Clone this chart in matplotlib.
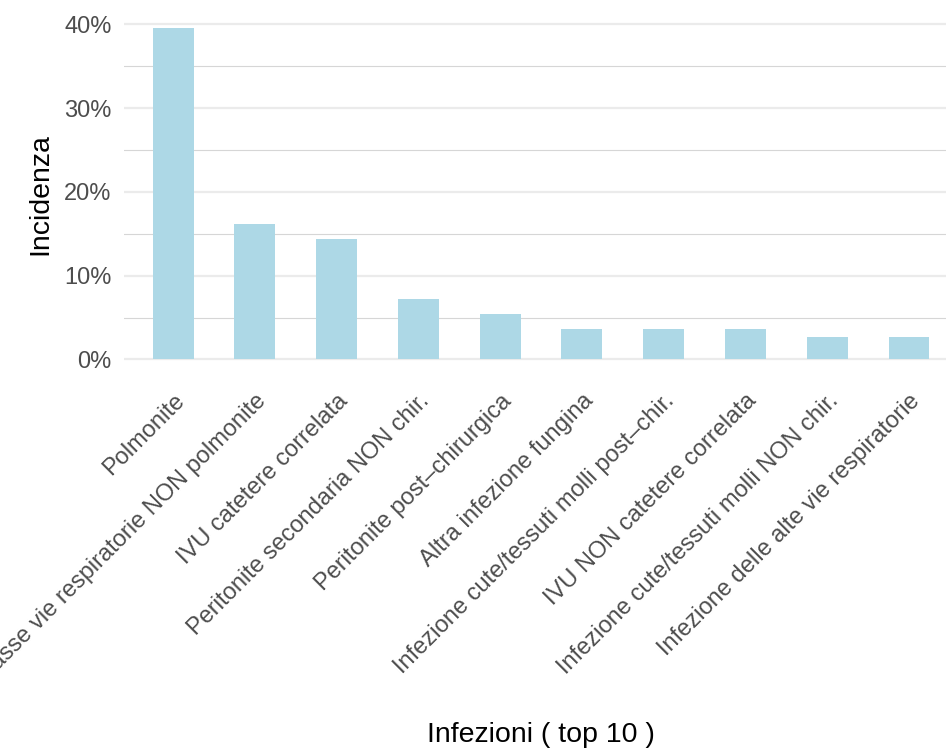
import matplotlib.pyplot as plt
import numpy as np
from matplotlib.ticker import FuncFormatter, MultipleLocator

plt.rcParams['font.family'] = ['Liberation Sans', 'DejaVu Sans']

infezioni = [
    'Polmonite',
    'Infezione delle basse vie respiratorie NON polmonite',
    'IVU catetere correlata',
    'Peritonite secondaria NON chir.',
    'Peritonite post\u2013chirurgica',
    'Altra infezione fungina',
    'Infezione cute/tessuti molli post\u2013chir.',
    'IVU NON catetere correlata',
    'Infezione cute/tessuti molli NON chir.',
    'Infezione delle alte vie respiratorie',
]
incidenza = [39.6, 16.2, 14.4, 7.2, 5.4, 3.6, 3.6, 3.6, 2.7, 2.7]

W, H = 946, 749
fig = plt.figure(figsize=(W / 100, H / 100), dpi=100)
# pannello in pixel: x 124..958 (esce a destra), y 11..376
ax = fig.add_axes([124 / W, 1 - 376 / H, (958 - 124) / W, (376 - 11) / H])

x = np.arange(1, len(infezioni) + 1)
ax.bar(x, incidenza, width=0.5, color='#ADD8E6', zorder=3)

ax.set_xlim(0.4, len(infezioni) + 0.6)
ax.set_ylim(-1.98, 41.58)
ax.yaxis.set_major_locator(MultipleLocator(10))
ax.yaxis.set_minor_locator(MultipleLocator(5))
ax.yaxis.set_major_formatter(FuncFormatter(lambda v, p: f'{v:.0f}%'))

ax.grid(axis='y', which='major', color='#EBEBEB', linewidth=1.6, zorder=0)
ax.grid(axis='y', which='minor', color='#D6D6D6', linewidth=0.8, zorder=0)
ax.grid(axis='x', visible=False)
for s in ax.spines.values():
    s.set_visible(False)

ax.tick_params(axis='both', which='both', length=0)
ax.tick_params(axis='y', labelsize=17, labelcolor='#4D4D4D', pad=9)
ax.set_xticks(x)
ax.set_xticklabels(infezioni, rotation=45, ha='right', va='top',
                   rotation_mode='anchor', fontsize=17, color='#4D4D4D')
ax.tick_params(axis='x', pad=10)

fig.text(40 / W, 1 - 194 / H, 'Incidenza', fontsize=20.5, rotation=90,
         ha='center', va='center')
fig.text(541 / W, 1 - 735 / H, 'Infezioni ( top 10 )', fontsize=20.5,
         ha='center', va='center')

fig.savefig('out.png', dpi=100)
